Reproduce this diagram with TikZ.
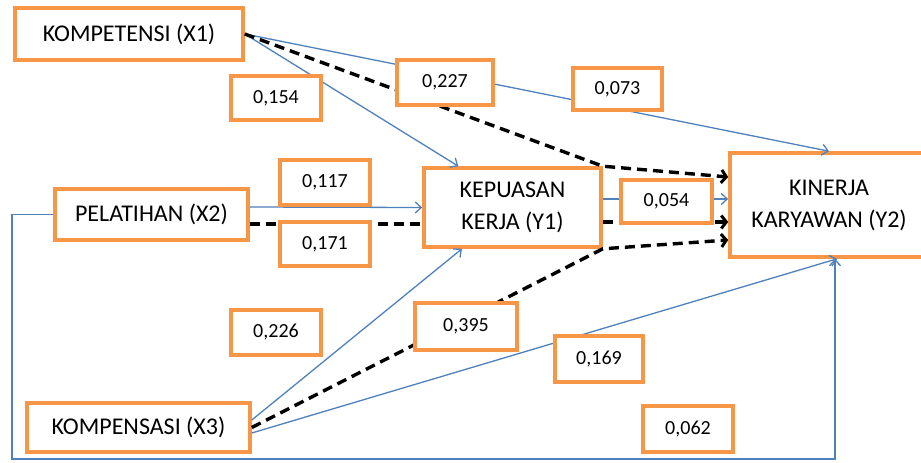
\documentclass[tikz,border=0pt]{standalone}
\usepackage{fontspec}
\setmainfont{Carlito}
\usetikzlibrary{arrows.meta,calc}
\definecolor{boxorange}{RGB}{247,150,70}
\definecolor{lineblue}{RGB}{79,129,189}

\begin{document}
\begin{tikzpicture}[x=1pt,y=-1pt,
  var/.style={draw=boxorange,line width=3.6pt,fill=white,align=center,inner sep=0pt,
    font=\fontsize{24}{32}\selectfont},
  coef/.style={draw=boxorange,line width=3.6pt,fill=white,inner sep=0pt,
    font=\fontsize{20}{22}\selectfont},
  path1/.style={lineblue,line width=1.3pt,-{Straight Barb[length=6pt,width=11pt,line width=1.3pt]}},
  path2/.style={black,line width=3.4pt,dash pattern=on 10pt off 6pt,
    -{Straight Barb[length=5pt,width=13pt,line width=3pt]}}]
  \useasboundingbox (0,0) rectangle (921,463);
  \fill[white] (0,0) rectangle (921,463);
  \node[var,minimum width=228pt,minimum height=52pt] (x1) at (129,34) {KOMPETENSI (X1)};
  \node[var,minimum width=193pt,minimum height=51pt] (x2) at (151.5,214.5) {PELATIHAN (X2)};
  \node[var,minimum width=223pt,minimum height=49pt] (x3) at (138.5,427.5) {KOMPENSASI (X3)};
  \node[var,minimum width=177pt,minimum height=79pt] (y1) at (512.5,207.5) {KEPUASAN\\KERJA (Y1)};
  \node[var,minimum width=198pt,minimum height=104pt] (y2) at (829,205) {KINERJA\\KARYAWAN (Y2)};
  \coordinate (loopL) at (12,459);
  \coordinate (loopR) at (835,459);

  \draw[path1] (x1.east) -- ($(y1.north west)!0.2!(y1.north east)$);
  \draw[path1] (x1.east) -- (y2.north);
  \draw[path2] (x1.east) -- (y1.north east) -- ([yshift=28pt]y2.west);
  \draw[path1] ([yshift=7.5pt]x2.east) -- (y1.west);
  \draw[path2,-] ([yshift=-9.5pt]x2.east) -- ([yshift=-16.5pt]y1.west);
  \draw[path1] ([yshift=8.5pt]y1.east) -- ([yshift=6pt]y2.west);
  \draw[path2] ([yshift=-14.5pt]y1.east) -- ([yshift=-17pt]y2.west);
  \draw[path1] ([yshift=7.5pt]x3.east) -- ($(y1.south west)!0.22!(y1.south east)$);
  \draw[path2] (x3.east) -- (y1.south east) -- ([yshift=-35pt]y2.west);
  \draw[path1] ([yshift=-5.5pt]x3.east) -- ($(y2.south west)!0.54!(y2.south east)$);
  \draw[path1] (x2.west) -| (loopL) -- (loopR) -- (loopR |- y2.south);

  \node[coef,minimum width=90pt,minimum height=44pt] (c154) at (276,98) {0,154};
  \node[coef,minimum width=96pt,minimum height=45pt] (c227) at (445,82.5) {0,227};
  \node[coef,minimum width=89pt,minimum height=42pt] (c073) at (617.5,89) {0,073};
  \node[coef,minimum width=90pt,minimum height=45pt] (c117) at (325,182.5) {0,117};
  \node[coef,minimum width=90pt,minimum height=44pt] (c171) at (325,244) {0,171};
  \node[coef,minimum width=91pt,minimum height=43pt] (c054) at (666.5,201.5) {0,054};
  \node[coef,minimum width=90pt,minimum height=45pt] (c226) at (276,332.5) {0,226};
  \node[coef,minimum width=102pt,minimum height=47pt] (c395) at (466,326.5) {0,395};
  \node[coef,minimum width=88pt,minimum height=46pt] (c169) at (599,359) {0,169};
  \node[coef,minimum width=90pt,minimum height=46pt] (c062) at (688,429) {0,062};
\end{tikzpicture}
\end{document}
